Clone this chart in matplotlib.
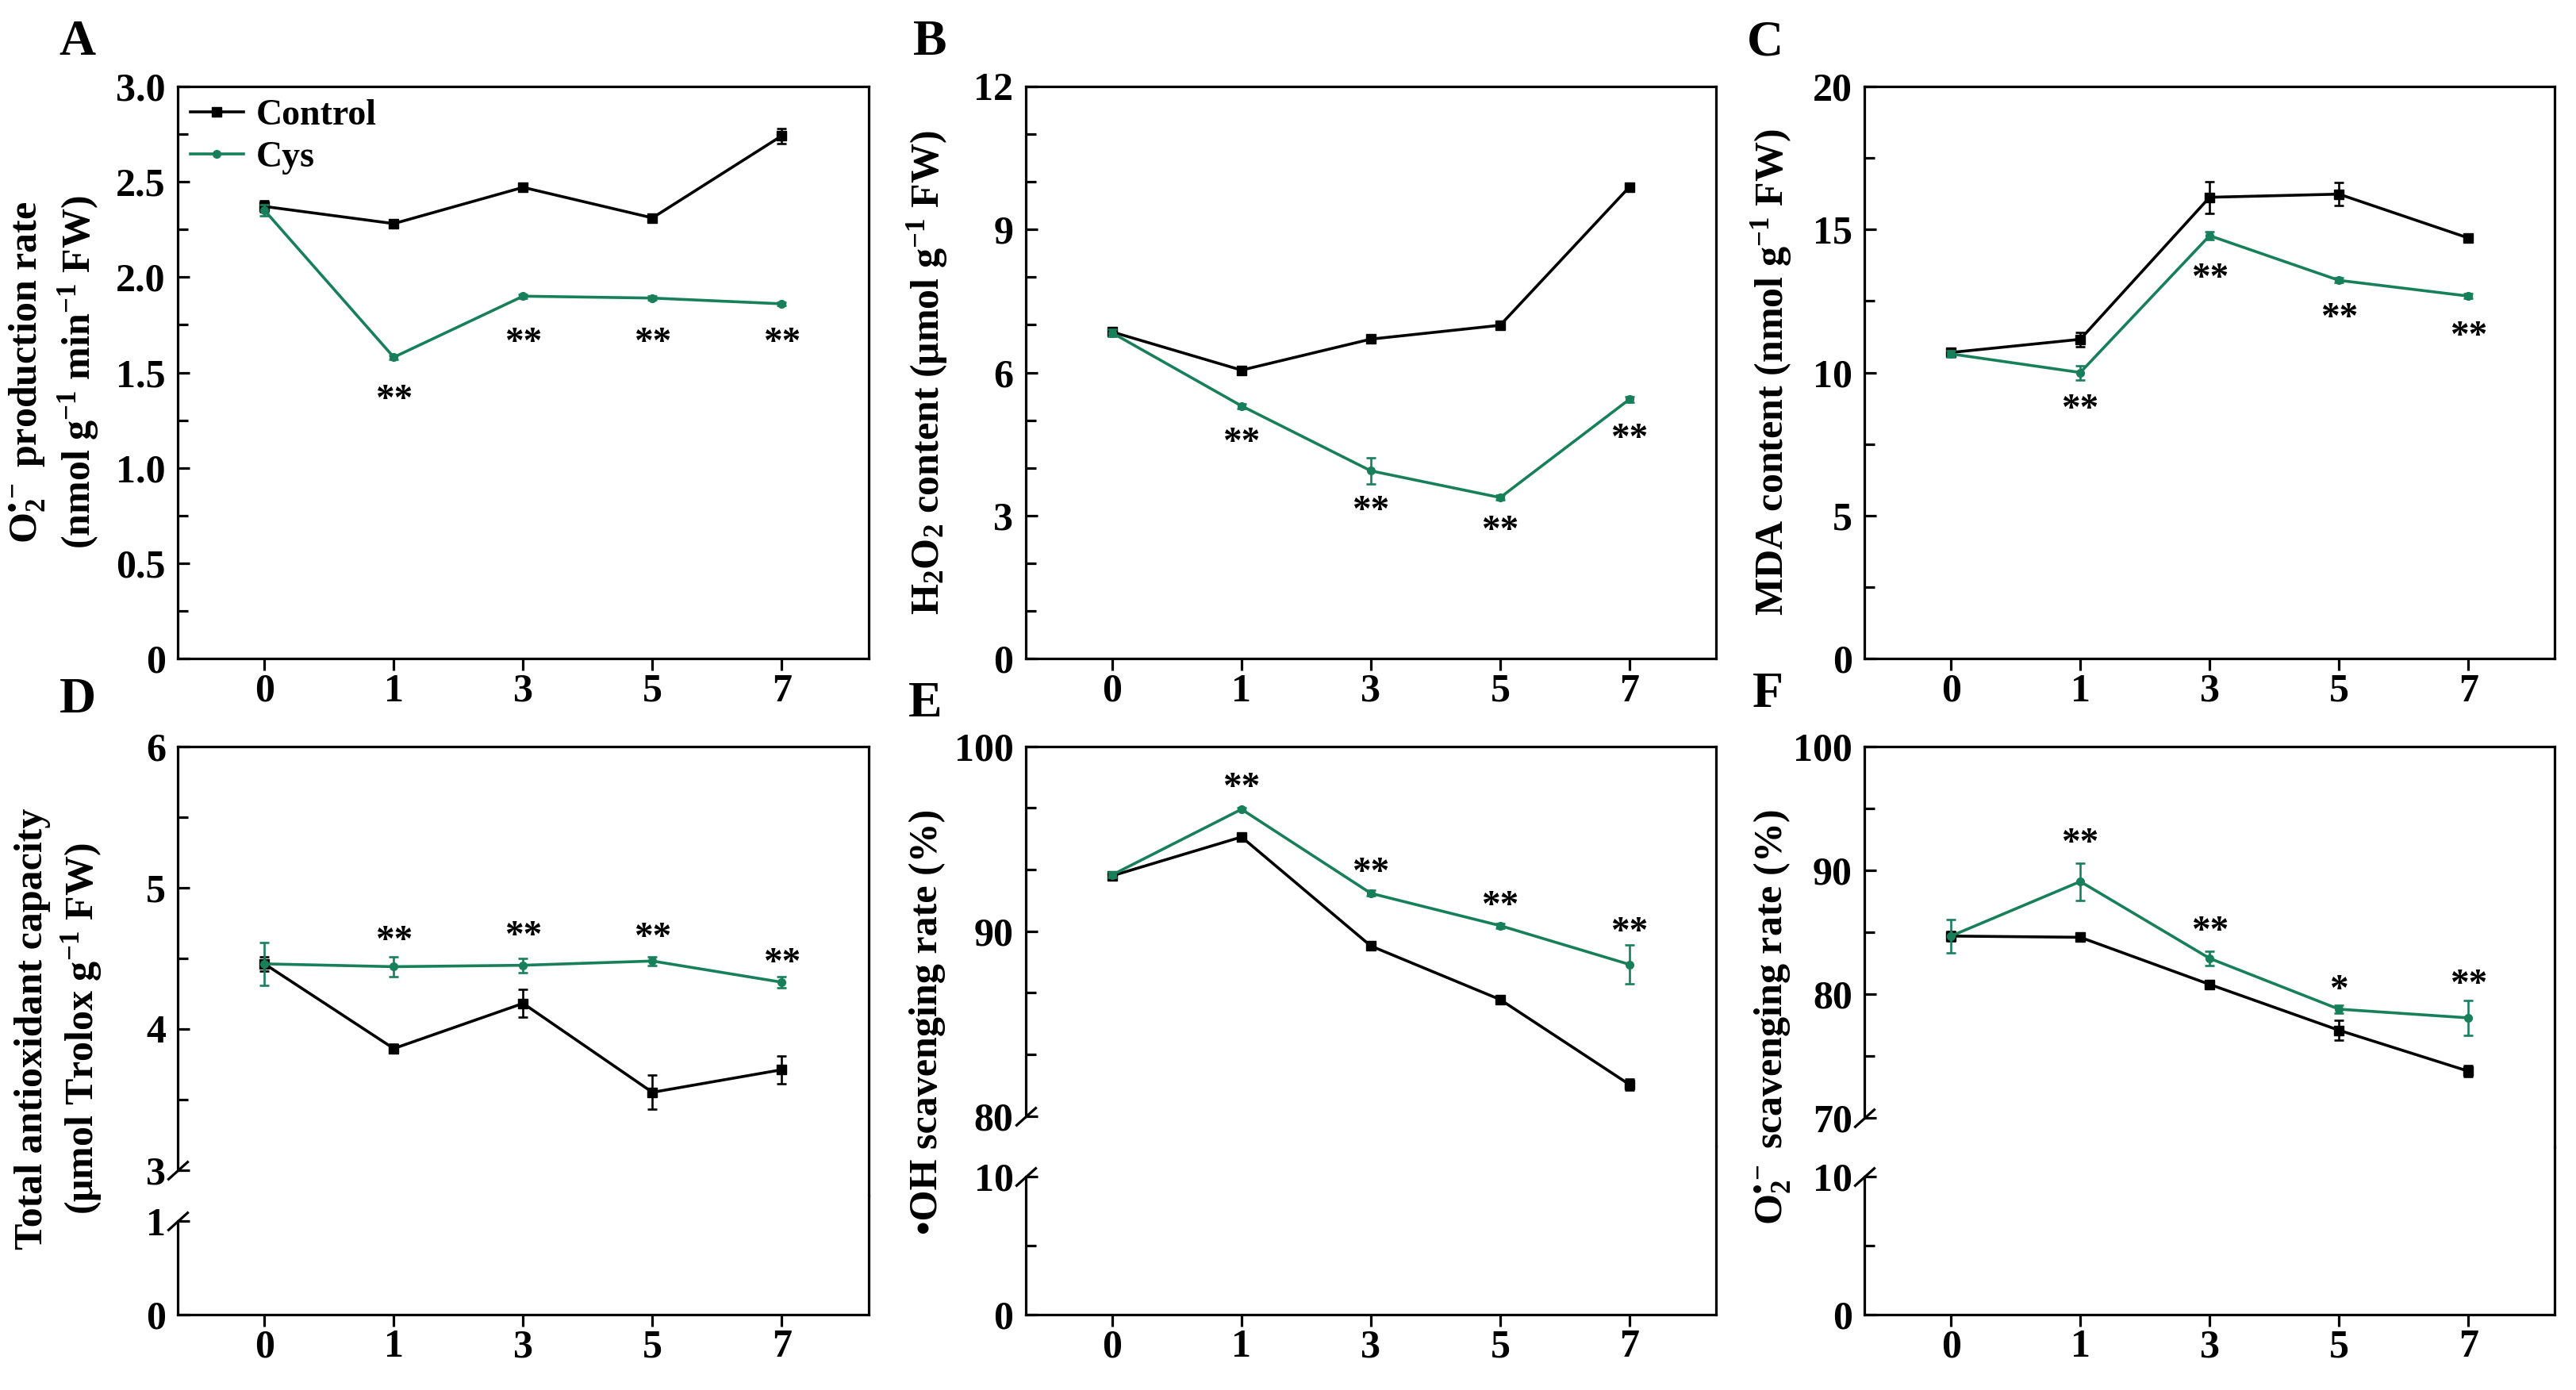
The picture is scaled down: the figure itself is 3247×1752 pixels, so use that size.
import numpy as np
import matplotlib
matplotlib.use('Agg')
import matplotlib.pyplot as plt
from matplotlib.ticker import MultipleLocator, FixedLocator, NullLocator

# ---- data ----
days = ['0', '1', '3', '5', '7']

# A: O2- production rate
a_ctrl = [2.37, 2.28, 2.47, 2.31, 2.74]
a_ctrl_err = [0.03, 0.01, 0.015, 0.015, 0.04]
a_cys = [2.35, 1.58, 1.90, 1.89, 1.86]
a_cys_err = [0.03, 0.01, 0.01, 0.01, 0.01]
a_star_y = [None, 1.40, 1.70, 1.70, 1.70]
a_star = ['', '**', '**', '**', '**']

# B: H2O2 content
b_ctrl = [6.85, 6.05, 6.70, 6.99, 9.89]
b_ctrl_err = [0.08, 0.06, 0.05, 0.05, 0.08]
b_cys = [6.83, 5.30, 3.94, 3.38, 5.44]
b_cys_err = [0.08, 0.05, 0.28, 0.05, 0.06]
b_star_y = [None, 4.69, 3.27, 2.86, 4.78]
b_star = ['', '**', '**', '**', '**']

# C: MDA content
c_ctrl = [10.70, 11.16, 16.12, 16.23, 14.70]
c_ctrl_err = [0.10, 0.25, 0.55, 0.40, 0.12]
c_cys = [10.65, 10.00, 14.78, 13.22, 12.67]
c_cys_err = [0.10, 0.25, 0.15, 0.08, 0.08]
c_star_y = [None, 8.99, 13.57, 12.17, 11.55]
c_star = ['', '**', '**', '**', '**']

# D: total antioxidant capacity
d_ctrl = [4.46, 3.86, 4.18, 3.55, 3.71]
d_ctrl_err = [0.05, 0.03, 0.10, 0.12, 0.10]
d_cys = [4.46, 4.44, 4.45, 4.48, 4.33]
d_cys_err = [0.15, 0.07, 0.05, 0.03, 0.04]
d_star_y = [None, 4.68, 4.71, 4.70, 4.52]
d_star = ['', '**', '**', '**', '**']

# E: OH scavenging rate
e_ctrl = [93.0, 95.1, 89.2, 86.3, 81.7]
e_ctrl_err = [0.15, 0.15, 0.12, 0.12, 0.30]
e_cys = [93.05, 96.6, 92.05, 90.3, 88.2]
e_cys_err = [0.15, 0.10, 0.15, 0.12, 1.05]
e_star_y = [None, 98.2, 93.6, 91.8, 90.4]
e_star = ['', '**', '**', '**', '**']

# F: O2- scavenging rate
f_ctrl = [84.7, 84.6, 80.8, 77.1, 73.8]
f_ctrl_err = [0.4, 0.2, 0.2, 0.8, 0.45]
f_cys = [84.7, 89.1, 82.9, 78.8, 78.1]
f_cys_err = [1.35, 1.5, 0.6, 0.35, 1.4]
f_star_y = [None, 92.8, 85.7, 81.0, 81.4]
f_star = ['', '**', '**', '*', '**']

GREEN = '#17805a'
TICK_FS = 36
LABEL_FS = 36
STAR_FS = 34
LW = 2.3

plt.rcParams['font.family'] = ['Liberation Serif', 'DejaVu Serif']
plt.rcParams['font.weight'] = 'bold'
plt.rcParams['mathtext.fontset'] = 'custom'
plt.rcParams['mathtext.rm'] = 'Liberation Serif:bold'
plt.rcParams['mathtext.it'] = 'Liberation Serif:bold:italic'
plt.rcParams['mathtext.bf'] = 'Liberation Serif:bold'
plt.rcParams['mathtext.default'] = 'rm'

fig = plt.figure(figsize=(32.48, 17.52), dpi=100)


def style(ax, show_x=True):
    for s in ax.spines.values():
        s.set_linewidth(LW)
    ax.set_xlim(-0.67, 4.67)
    ax.tick_params(axis='y', which='both', direction='in', left=True, right=False,
                   labelsize=TICK_FS, pad=11, width=LW)
    ax.tick_params(axis='y', which='major', length=11)
    ax.tick_params(axis='y', which='minor', length=9)
    ax.set_xticks(range(len(days)))
    ax.xaxis.set_minor_locator(NullLocator())
    if show_x:
        ax.set_xticklabels(days)
        ax.tick_params(axis='x', direction='out', length=11, width=LW,
                       labelsize=TICK_FS, pad=2, top=False)
    else:
        ax.tick_params(axis='x', bottom=False, labelbottom=False)


def plot_pair(ax, ctrl, ctrl_err, cys, cys_err):
    x = np.arange(len(days))
    c = ax.errorbar(x, ctrl, yerr=ctrl_err, color='black', marker='s', ms=8.5, lw=2.6,
                    elinewidth=1.9, capsize=4, capthick=1.9, zorder=3)
    g = ax.errorbar(x, cys, yerr=cys_err, color=GREEN, marker='o', ms=7, lw=2.6,
                    elinewidth=1.9, capsize=4, capthick=1.9, zorder=4)
    return c, g


def add_stars(ax, ys, marks):
    for i, (y, m) in enumerate(zip(ys, marks)):
        if m:
            ax.annotate(m, (i, y), xytext=(0, -8), textcoords='offset points',
                        ha='center', va='center', fontsize=STAR_FS, fontweight='bold')


lefts = [0.069, 0.398, 0.7235]
width = 0.268
top_bottom, top_height = 0.526, 0.412
bot_bottom, bot_height = 0.054, 0.409

# ---- top row ----
top_panels = [
    (a_ctrl, a_ctrl_err, a_cys, a_cys_err, a_star_y, a_star, (0, 3),
     [0, 0.5, 1.0, 1.5, 2.0, 2.5, 3.0], ['0', '0.5', '1.0', '1.5', '2.0', '2.5', '3.0'], 0.25),
    (b_ctrl, b_ctrl_err, b_cys, b_cys_err, b_star_y, b_star, (0, 12),
     [0, 3, 6, 9, 12], ['0', '3', '6', '9', '12'], 1),
    (c_ctrl, c_ctrl_err, c_cys, c_cys_err, c_star_y, c_star, (0, 20),
     [0, 5, 10, 15, 20], ['0', '5', '10', '15', '20'], 2.5),
]
for i, (ct, cte, cy, cye, sy, sm, ylim, yt, ytl, mn) in enumerate(top_panels):
    ax = fig.add_axes([lefts[i], top_bottom, width, top_height])
    style(ax)
    h = plot_pair(ax, ct, cte, cy, cye)
    add_stars(ax, sy, sm)
    ax.set_ylim(*ylim)
    ax.yaxis.set_major_locator(FixedLocator(yt))
    ax.set_yticklabels(ytl)
    ax.yaxis.set_minor_locator(MultipleLocator(mn))
    if i == 0:
        ax.legend([h[0][0], h[1][0]], ['Control', 'Cys'], loc='upper left',
                  frameon=False, fontsize=33, handlelength=1.45, handletextpad=0.35,
                  labelspacing=0.25, borderpad=0.15, borderaxespad=0.2)

# ---- bottom row (broken y axes) ----
bot_panels = [
    (d_ctrl, d_ctrl_err, d_cys, d_cys_err, d_star_y, d_star,
     (3, 6), [3, 4, 5, 6], 0.5, 1, [0, 1], None, 0.745, 0.835),
    (e_ctrl, e_ctrl_err, e_cys, e_cys_err, e_star_y, e_star,
     (80, 100), [80, 90, 100], 10 / 3, 10, [0, 10], 5, 0.65, 0.757),
    (f_ctrl, f_ctrl_err, f_cys, f_cys_err, f_star_y, f_star,
     (70, 100), [70, 80, 90, 100], 5, 10, [0, 10], 5, 0.654, 0.756),
]
for i, (ct, cte, cy, cye, sy, sm, (lo, hi), yt, mn, ltop, lyt, lmn, f_up, f_low) in enumerate(bot_panels):
    fs = (f_up + f_low) / 2
    ax_t = fig.add_axes([lefts[i], bot_bottom + (1 - fs) * bot_height, width, fs * bot_height])
    ax_b = fig.add_axes([lefts[i], bot_bottom, width, (1 - fs) * bot_height])
    style(ax_t, show_x=False)
    style(ax_b)
    plot_pair(ax_t, ct, cte, cy, cye)
    add_stars(ax_t, sy, sm)
    ax_t.set_ylim(hi - (hi - lo) * fs / f_up, hi)
    ax_b.set_ylim(0, ltop * (1 - fs) / (1 - f_low))
    ax_t.yaxis.set_major_locator(FixedLocator(yt))
    ax_t.yaxis.set_minor_locator(MultipleLocator(mn))
    ax_b.yaxis.set_major_locator(FixedLocator(lyt))
    if lmn:
        ax_b.yaxis.set_minor_locator(MultipleLocator(lmn))
    else:
        ax_b.yaxis.set_minor_locator(NullLocator())
    ax_t.spines['bottom'].set_visible(False)
    ax_b.spines['top'].set_visible(False)
    ax_t.spines['left'].set_bounds(lo, hi)
    ax_b.spines['left'].set_bounds(0, ltop)
    kw = dict(marker=[(-1, -0.9), (1, 0.9)], markersize=19, linestyle='none',
              color='k', mec='k', mew=LW, clip_on=False)
    ax_t.plot([0], [lo], transform=ax_t.get_yaxis_transform(), **kw)
    ax_b.plot([0], [ltop], transform=ax_b.get_yaxis_transform(), **kw)

# ---- y labels ----
ylabels = [
    (0.021, 0.732, 'O$_2^{•-}$ production rate\n(nmol g$^{-1}$ min$^{-1}$ FW)'),
    (0.360, 0.732, 'H$_2$O$_2$ content (μmol g$^{-1}$ FW)'),
    (0.6875, 0.732, 'MDA content (nmol g$^{-1}$ FW)'),
    (0.023, 0.26, 'Total antioxidant capacity\n(μmol Trolox g$^{-1}$ FW)'),
    (0.360, 0.265, '•OH scavenging rate (%)'),
    (0.688, 0.268, 'O$_2^{•-}$ scavenging rate (%)'),
]
for x, y, s in ylabels:
    fig.text(x, y, s, rotation=90, ha='center', va='center', multialignment='center',
             fontsize=LABEL_FS, fontweight='bold', linespacing=1.25)

# ---- panel letters ----
letters = [('A', 0.030, 0.969), ('B', 0.361, 0.969), ('C', 0.685, 0.969),
           ('D', 0.030, 0.496), ('E', 0.359, 0.493), ('F', 0.686, 0.500)]
for s, x, y in letters:
    fig.text(x, y, s, fontsize=46, fontweight='bold', ha='center', va='center')

fig.savefig('out.png', dpi=100)
